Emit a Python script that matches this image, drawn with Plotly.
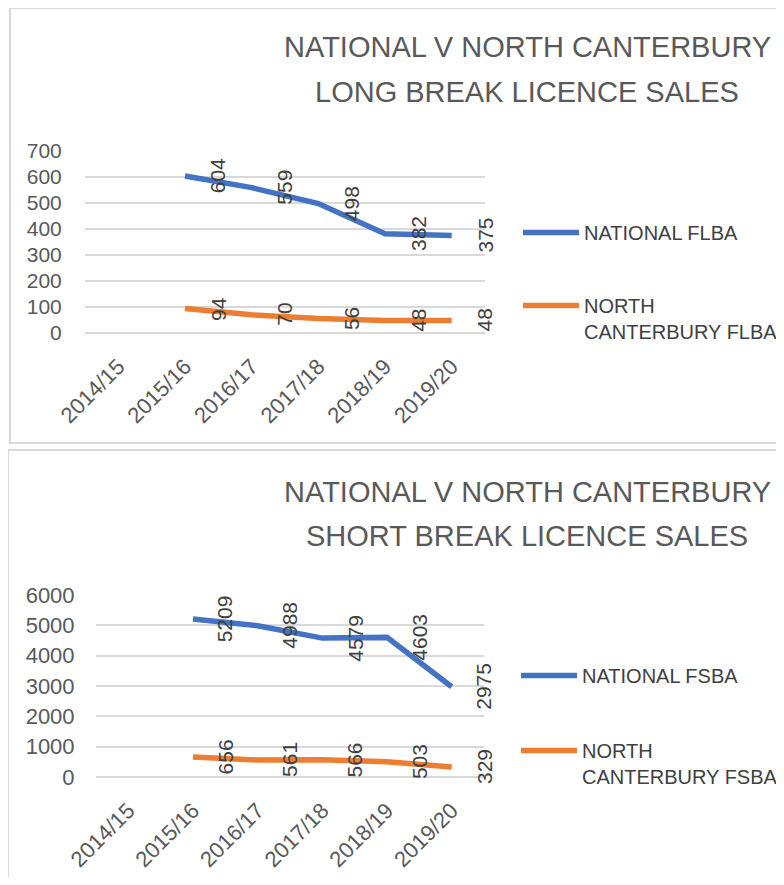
import plotly.graph_objects as go

# ---------------- data ----------------
categories = ["2014/15", "2015/16", "2016/17", "2017/18", "2018/19", "2019/20"]
national_flba = [None, 604, 559, 498, 382, 375]
north_flba = [None, 94, 70, 56, 48, 48]
national_fsba = [None, 5209, 4988, 4579, 4603, 2975]
north_fsba = [None, 656, 561, 566, 503, 329]

top_title = ["NATIONAL V NORTH CANTERBURY", "LONG BREAK LICENCE SALES"]
bottom_title = ["NATIONAL V NORTH CANTERBURY", "SHORT BREAK LICENCE SALES"]
names_top = ["NATIONAL FLBA", "NORTH<br>CANTERBURY FLBA"]
names_bottom = ["NATIONAL FSBA", "NORTH<br>CANTERBURY FSBA"]

# ---------------- styling ----------------
PAGE_W, PAGE_H = 784, 885
BODY = 8                      # default page margin around the plot div
W, H = PAGE_W - 2 * BODY, PAGE_H - 2 * BODY
BLUE = "#4472C4"
ORANGE = "#ED7D31"
GRID = "#d9d9d9"
TXT = "#595959"
DARK = "#404040"
FONT = "Liberation Sans, Arial, sans-serif"


def fx(px):
    return (px - BODY) / W


def fy(py):
    return 1 - (py - BODY) / H


x_idx = list(range(len(categories)))

fig = go.Figure()

series = [
    (national_flba, BLUE, names_top[0], "x", "y", "legend"),
    (north_flba, ORANGE, names_top[1], "x", "y", "legend2"),
    (national_fsba, BLUE, names_bottom[0], "x2", "y2", "legend3"),
    (north_fsba, ORANGE, names_bottom[1], "x2", "y2", "legend4"),
]

annotations = []
for vals, col, name, xa, ya, lg in series:
    fig.add_trace(go.Scatter(
        x=x_idx, y=vals, mode="lines", name=name,
        line=dict(color=col, width=5.5),
        xaxis=xa, yaxis=ya, legend=lg, connectgaps=False,
        hoverinfo="skip",
    ))
    for i, v in enumerate(vals):
        if v is None:
            continue
        annotations.append(dict(
            x=i + 0.5, y=v, xref=xa, yref=ya, text=str(v),
            textangle=-90, showarrow=False,
            font=dict(family=FONT, size=21, color=DARK),
            xanchor="center", yanchor="middle",
        ))

# titles
for lines, ys in ((top_title, (47, 92)), (bottom_title, (492, 536))):
    for t, yy in zip(lines, ys):
        annotations.append(dict(
            x=fx(527), y=fy(yy), xref="paper", yref="paper", text=t,
            showarrow=False, xanchor="center", yanchor="middle",
            font=dict(family=FONT, size=29, color=TXT),
        ))

axis_common = dict(
    showline=False, showgrid=False, zeroline=False, automargin=False,
    tickfont=dict(family=FONT, size=21, color=TXT),
)

xaxis_common = dict(
    axis_common, range=[-0.5, 5.5], tickmode="array", tickvals=x_idx,
    ticktext=categories, tickangle=-45, ticks="outside", ticklen=11,
    tickcolor="rgba(0,0,0,0)", tickfont=dict(family=FONT, size=22, color=TXT),
)

yaxis_common = dict(
    axis_common, showgrid=True, gridcolor=GRID, gridwidth=2,
    zeroline=True, zerolinecolor=GRID, zerolinewidth=2,
    ticks="outside", tickcolor="rgba(0,0,0,0)",
)

legend_common = dict(
    xanchor="left", yanchor="top", valign="top", itemwidth=56,
    bgcolor="rgba(0,0,0,0)", font=dict(family=FONT, size=20, color=DARK),
    itemclick=False, itemdoubleclick=False,
)

fig.update_layout(
    width=W, height=H,
    margin=dict(l=0, r=0, t=0, b=0, autoexpand=False),
    paper_bgcolor="white", plot_bgcolor="white",
    showlegend=True,
    xaxis=dict(xaxis_common, domain=[fx(85), fx(485)], anchor="y"),
    yaxis=dict(yaxis_common, domain=[fy(333), fy(151)], range=[0, 700],
               dtick=100, anchor="x", ticklen=18),
    xaxis2=dict(xaxis_common, domain=[fx(96), fx(484)], anchor="y2"),
    yaxis2=dict(yaxis_common, domain=[fy(777), fy(595)], range=[0, 6000],
                dtick=1000, anchor="x2", ticklen=16,
                tickfont=dict(family=FONT, size=22, color=TXT)),
    legend=dict(legend_common, x=fx(518), y=fy(213)),
    legend2=dict(legend_common, x=fx(518), y=fy(286)),
    legend3=dict(legend_common, x=fx(516), y=fy(656)),
    legend4=dict(legend_common, x=fx(516), y=fy(731)),
    annotations=annotations,
    shapes=[
        dict(type="rect", xref="paper", yref="paper",
             x0=fx(10), x1=fx(800), y0=fy(443), y1=fy(8),
             line=dict(color=GRID, width=2), fillcolor="rgba(0,0,0,0)",
             layer="below"),
        dict(type="rect", xref="paper", yref="paper",
             x0=fx(8), x1=fx(800), y0=fy(900), y1=fy(450),
             line=dict(color=GRID, width=2), fillcolor="rgba(0,0,0,0)",
             layer="below"),
    ],
)

fig.write_html("out.html")
